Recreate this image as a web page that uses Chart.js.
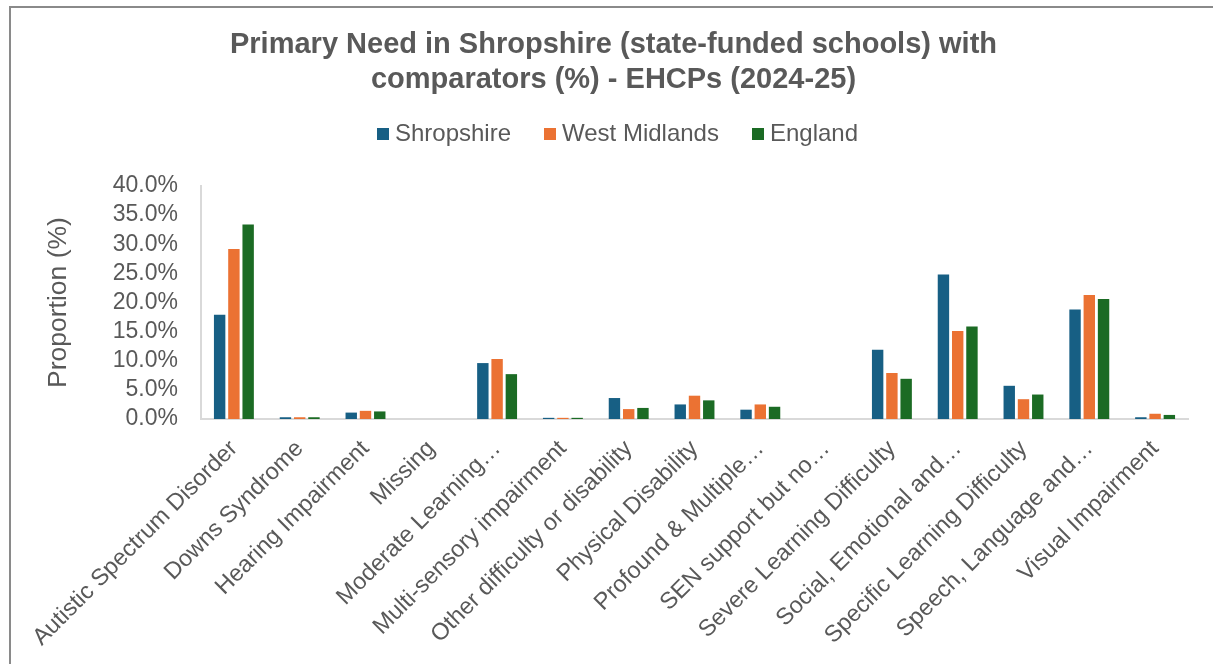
<!DOCTYPE html>
<html>
<head>
<meta charset="utf-8">
<script src="https://cdn.jsdelivr.net/npm/chart.js@4"></script>
<style>
  html, body { margin: 0; padding: 0; background: #fff; overflow: hidden; width: 1213px; height: 664px; }
  #frame { position: absolute; left: 9px; top: 6px; width: 1300px; height: 800px; border-left: 2px solid #8a8a8a; border-top: 2px solid #8a8a8a; }
  #chart { position: absolute; left: 11px; top: 8px; }
</style>
</head>
<body>
<div id="frame"></div>
<canvas id="chart" width="1206" height="656"></canvas>
<script>
// Primary need categories (long names shortened as on the axis)
const categories = [
  'Autistic Spectrum Disorder',
  'Downs Syndrome',
  'Hearing Impairment',
  'Missing',
  'Moderate Learning…',
  'Multi-sensory impairment',
  'Other difficulty or disability',
  'Physical Disability',
  'Profound & Multiple…',
  'SEN support but no…',
  'Severe Learning Difficulty',
  'Social, Emotional and…',
  'Specific Learning Difficulty',
  'Speech, Language and…',
  'Visual Impairment'
];

// Share of EHCPs by primary need (%)
const shropshire   = [17.9, 0.3, 1.1, 0, 9.6, 0.2, 3.6, 2.5, 1.6, 0, 11.9, 24.8, 5.7, 18.8, 0.3];
const westMidlands = [29.2, 0.3, 1.4, 0, 10.3, 0.2, 1.7, 4.0, 2.5, 0, 7.9, 15.1, 3.4, 21.3, 0.9];
const england      = [33.4, 0.3, 1.3, 0, 7.7, 0.2, 1.9, 3.2, 2.1, 0, 6.9, 15.9, 4.2, 20.6, 0.7];

const yTicks = [0, 5, 10, 15, 20, 25, 30, 35, 40];

const TEXT = '#595959';
const FONT = "'Liberation Sans', Arial, sans-serif";
const COLORS = ['#175F84', '#EB7233', '#1B6B24'];

Chart.defaults.font.family = FONT;
Chart.defaults.color = TEXT;

// Small square legend swatches
const swatches = COLORS.map(c => {
  const cv = document.createElement('canvas');
  cv.width = 12; cv.height = 12;
  const g = cv.getContext('2d');
  g.fillStyle = c;
  g.fillRect(0, 0, 12, 12);
  return cv;
});

// Nudge the legend row slightly to the right of the centred title
const legendNudge = {
  id: 'legendNudge',
  afterLayout(chart) {
    if (chart.legend) { chart.legend.left += 7; chart.legend.right += 7; }
  }
};

const barStyle = { barPercentage: 0.8, categoryPercentage: 0.65 };

new Chart(document.getElementById('chart'), {
  type: 'bar',
  data: {
    labels: categories,
    datasets: [
      { label: 'Shropshire',    data: shropshire,   backgroundColor: COLORS[0], ...barStyle },
      { label: 'West Midlands', data: westMidlands, backgroundColor: COLORS[1], ...barStyle },
      { label: 'England',       data: england,      backgroundColor: COLORS[2], ...barStyle }
    ]
  },
  plugins: [legendNudge],
  options: {
    responsive: false,
    animation: false,
    devicePixelRatio: 1,
    layout: { padding: { left: 28, right: 29, top: 0, bottom: 0 } },
    plugins: {
      title: {
        display: true,
        text: ['Primary Need in Shropshire (state-funded schools) with', 'comparators (%) - EHCPs (2024-25)'],
        color: TEXT,
        font: { size: 29, weight: 'bold', lineHeight: 1.2 },
        padding: { top: 19.6, bottom: -14.2 }
      },
      subtitle: {
        display: true,
        text: ' ',
        weight: 500,
        font: { size: 1, lineHeight: 1 },
        padding: { top: 29, bottom: 0 }
      },
      legend: {
        display: true,
        position: 'top',
        labels: {
          usePointStyle: true,
          pointStyleWidth: 0.01,
          boxHeight: 12,
          padding: 39,
          color: TEXT,
          font: { size: 24 },
          generateLabels: (chart) => {
            const items = Chart.defaults.plugins.legend.labels.generateLabels(chart);
            items.forEach((it, i) => { it.pointStyle = swatches[i]; });
            return items;
          }
        }
      },
      tooltip: { enabled: false }
    },
    scales: {
      x: {
        grid: { display: false, drawTicks: false },
        border: { display: true, color: '#d9d9d9', width: 2 },
        ticks: {
          minRotation: 45,
          maxRotation: 45,
          autoSkip: false,
          padding: 16,
          color: TEXT,
          font: { size: 23.5 }
        },
        afterFit: (scale) => { scale.height = 245; }
      },
      y: {
        min: 0,
        max: 40,
        afterBuildTicks: (scale) => { scale.ticks = yTicks.map(v => ({ value: v })); },
        grid: { display: false, drawTicks: false },
        border: { display: true, color: '#d9d9d9', width: 2 },
        ticks: {
          autoSkip: false,
          padding: 23,
          color: TEXT,
          font: { size: 23 },
          callback: (v) => v.toFixed(1) + '%'
        },
        title: {
          display: true,
          text: 'Proportion (%)',
          color: TEXT,
          font: { size: 26.5 }
        },
        afterFit: (scale) => { scale.width = 162; }
      }
    }
  }
});
</script>
</body>
</html>
